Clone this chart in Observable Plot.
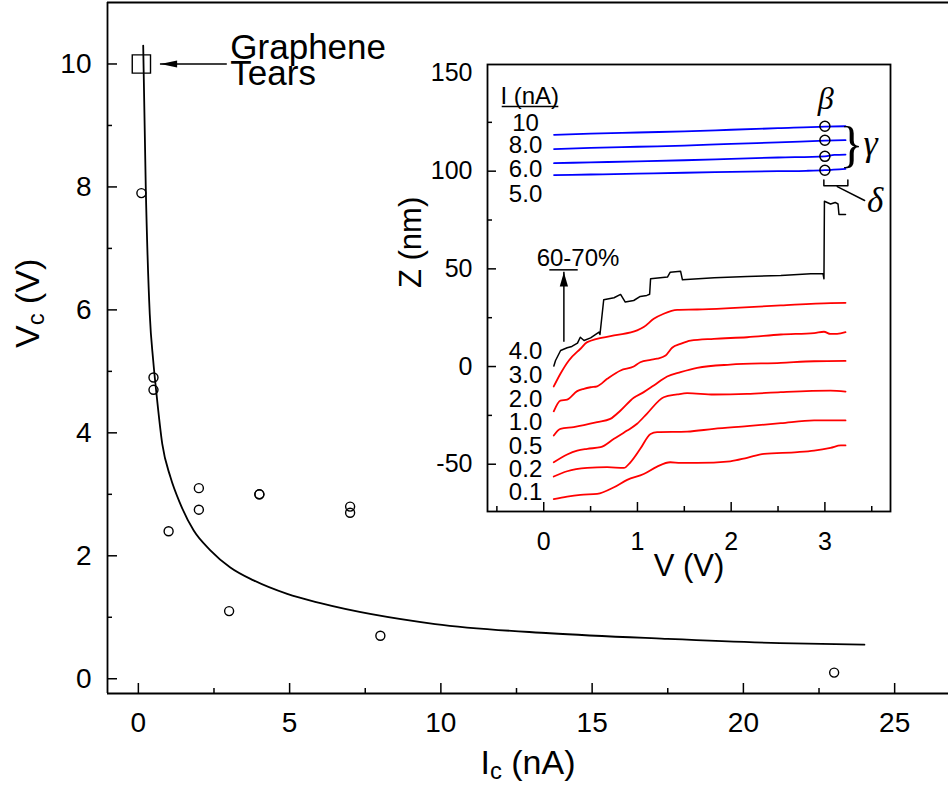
<!DOCTYPE html>
<html><head><meta charset="utf-8">
<script src="https://cdn.jsdelivr.net/npm/d3@7"></script>
<script src="https://cdn.jsdelivr.net/npm/@observablehq/plot@0.6"></script>
<style>
html,body{margin:0;padding:0;background:#fff;}
#wrap{position:relative;width:948px;height:786px;overflow:hidden;}
#main{position:absolute;left:0;top:0;}
#inset{position:absolute;left:380px;top:40px;}
</style></head><body><div id="wrap"><div id="main"></div><div id="inset"></div></div>
<script>
// ---------- main plot data ----------
const pointsI = [0.1, 0.5, 0.5, 1, 2, 2, 3, 4, 4, 7, 7, 8, 23];
const pointsV = [7.9, 4.9, 4.7, 2.4, 3.1, 2.75, 1.1, 3.0, 3.0, 2.8, 2.7, 0.7, 0.1];
const tearI = [0.1];
const tearV = [10];
const fitI = [0.16,0.245,0.377,0.49,0.6,0.79,1.06,1.39,1.83,2.38,3.04,3.81,4.92,6.02,9.81,13.6,17.4,21.2,24.0];
const fitV = [10.3,8.0,5.93,5.18,4.63,3.82,3.28,2.84,2.41,2.09,1.81,1.60,1.38,1.23,0.89,0.74,0.65,0.58,0.555];
const mainXDomain = [-1.02, 26.78];
const mainYDomain = [-0.24, 11.0];
const xTicksMajor = [0, 5, 10, 15, 20, 25];
const xTicksMinor = [2.5, 7.5, 12.5, 17.5, 22.5];
const yTicksMajor = [0, 2, 4, 6, 8, 10];
const yTicksMinor = [1, 3, 5, 7, 9];
const mainXLabel = "Ic (nA)";
const mainYLabel = "Vc (V)";
const tearText = [{I: 3.04, V: 10.01, t: "Graphene\nTears"}];
const tearArrowLine = [{x1: 0.73, x2: 2.94, y: 10}];
const tearArrowHead = [{I: 0.73, V: 10}];

// ---------- inset data: [V (V), Z (nm)] ----------
const blue10 = [[0.11,118.6],[0.5,119.2],[1.0,119.8],[1.5,120.4],[2.0,121.2],[2.5,122.0],[3.0,122.8],[3.22,123.0]];
const blue8 = [[0.11,111.3],[0.5,111.9],[1.0,112.5],[1.5,113.1],[2.0,114.0],[2.5,114.7],[3.0,115.6],[3.22,115.9]];
const blue6 = [[0.11,104.1],[0.5,104.5],[1.0,105.0],[1.5,105.6],[2.0,106.3],[2.5,107.0],[3.0,107.6],[3.1,108.3],[3.22,108.5]];
const blue5 = [[0.11,98.0],[0.5,98.3],[1.0,98.7],[1.5,99.2],[2.0,99.6],[2.5,100.0],[2.8,100.2],[3.0,100.5],[3.22,101.2]];
const black4 = [[0.108,0.3],[0.126,3.1],[0.18,8.2],[0.25,9.6],[0.3,10.3],[0.36,12.0],[0.39,15.0],[0.43,13.3],[0.5,14.7],[0.59,17.6],[0.60,16.4],[0.64,34.2],[0.75,35.2],[0.82,36.9],[0.87,33.0],[0.96,33.8],[1.03,35.9],[1.10,36.4],[1.13,37.0],[1.14,44.9],[1.32,45.8],[1.35,48.3],[1.46,48.8],[1.48,44.4],[1.82,45.4],[2.17,46.1],[2.53,46.6],[2.85,47.5],[2.98,47.5],[2.99,44.9],[2.995,84.6],[3.06,83.2],[3.11,84.0],[3.14,83.2],[3.15,77.8],[3.22,77.8]];
const red3 = [[0.107,-10.2],[0.178,-3.7],[0.268,3.1],[0.392,9.1],[0.464,12.5],[0.75,15.9],[0.996,18.5],[1.067,20.2],[1.174,24.4],[1.28,27.0],[1.424,29.0],[1.637,29.2],[1.99,29.9],[2.53,31.3],[3.06,32.5],[3.22,32.6]];
const red2 = [[0.107,-22.9],[0.178,-17.4],[0.25,-16.9],[0.357,-12.6],[0.428,-11.4],[0.5,-10.6],[0.57,-10.1],[0.677,-6.3],[0.82,-2.0],[0.96,0.0],[1.03,2.2],[1.14,3.4],[1.21,4.0],[1.3,5.6],[1.37,9.6],[1.46,11.6],[1.566,13.3],[1.815,14.2],[2.17,15.0],[2.53,16.4],[2.885,17.1],[2.99,17.8],[3.06,16.7],[3.13,16.7],[3.22,17.6]];
const red1 = [[0.107,-35.3],[0.178,-31.9],[0.32,-31.0],[0.57,-28.5],[0.71,-26.8],[0.82,-22.5],[0.96,-16.0],[1.067,-13.1],[1.174,-9.7],[1.317,-5.1],[1.46,-2.9],[1.637,-0.7],[1.99,1.0],[2.53,1.9],[2.885,2.7],[3.22,2.9]];
const red05 = [[0.107,-49.0],[0.25,-45.0],[0.357,-43.0],[0.464,-42.1],[0.606,-41.3],[0.75,-37.0],[0.89,-32.8],[0.996,-29.3],[1.10,-24.2],[1.28,-15.7],[1.424,-14.3],[1.53,-13.6],[1.815,-14.3],[2.17,-14.0],[2.53,-13.1],[3.06,-12.3],[3.22,-12.8]];
const red02 = [[0.107,-56.3],[0.25,-53.6],[0.464,-51.9],[0.677,-51.5],[0.855,-51.9],[0.925,-49.0],[1.03,-42.1],[1.14,-34.5],[1.21,-33.6],[1.53,-33.3],[1.815,-31.9],[2.17,-30.5],[2.53,-29.0],[2.885,-27.6],[3.22,-27.6]];
const red01 = [[0.107,-67.9],[0.25,-66.6],[0.392,-65.7],[0.57,-65.2],[0.75,-61.8],[0.89,-58.0],[1.067,-55.0],[1.21,-51.2],[1.35,-49.0],[1.46,-49.3],[1.637,-49.3],[1.99,-48.5],[2.17,-46.7],[2.35,-44.7],[2.707,-43.8],[2.885,-43.0],[3.06,-41.6],[3.17,-40.4],[3.22,-40.4]];
const betaCircles = [[3.0,123.0],[3.0,115.8],[3.0,107.6],[3.0,100.5]];
const insetXDomain = [-0.6, 3.7];
const insetYDomain = [-74.2, 154.6];
const vTicksMajor = [0, 1, 2, 3];
const vTicksMinor = [-0.5, 0.5, 1.5, 2.5, 3.5];
const zTicksLabels = [-50, 0, 50, 100, 150];
const zTicksMajor = [-50, 0, 50, 100];
const zTicksMinor = [-25, 25, 75, 125];
const currentLabels = ["10", "8.0", "6.0", "5.0", "4.0", "3.0", "2.0", "1.0", "0.5", "0.2", "0.1"];
const currentLabelZ = [124.5, 113.1, 101.1, 88.0, 7.7, -4.5, -16.7, -28.7, -40.9, -52.6, -64.6];
const currentLabelV = -0.194;
const headerText = [{V: -0.149, Z: 138.1, t: "I (nA)"}, {V: 0.366, Z: 55.4, t: "60-70%"}];
const underlines = [{x1: -0.443, x2: 0.161, y: 133.1}, {x1: 0.065, x2: 0.368, y: 49.5}];
const riseArrowLine = [{x: 0.215, y1: 12.4, y2: 48.3}];
const riseArrowHead = [{V: 0.215, Z: 48.3}];
const greek = [{V: 3.008, Z: 137.0, t: "β", s: 32}, {V: 3.488, Z: 114.3, t: "γ", s: 36}, {V: 3.536, Z: 85.0, t: "δ", s: 35}];
const braceText = [{V: 3.285, Z: 113.6, t: "}"}];
const deltaBracket = [[2.989,95.5],[2.989,92.6],[3.245,92.6],[3.245,95.5]];
const deltaLeader = [[3.132,92.1],[3.424,85.0]];
const insetXLabel = "V (V)";
const insetYLabel = "Z (nm)";

// ---------- helpers ----------
const FONT = "'Liberation Sans', Arial, Helvetica, sans-serif";
const SERIF = "'Liberation Serif', 'Times New Roman', serif";
const toRows = (arr, key) => arr.map(([V, Z]) => ({V, Z, k: key}));
function arrowHead(len, wid) {
  return {draw(ctx) { ctx.moveTo(0, 0); ctx.lineTo(len, -wid / 2); ctx.lineTo(len, wid / 2); ctx.closePath(); }};
}

const mainPts = pointsI.map((I, i) => ({I, V: pointsV[i]}));
const tearPts = tearI.map((I, i) => ({I, V: tearV[i]}));
const fitRows = fitI.map((I, i) => ({I, V: fitV[i]}));

const mainSvg = Plot.plot({
  width: 948, height: 786,
  marginLeft: 107, marginRight: 0, marginTop: 2, marginBottom: 93,
  x: {domain: mainXDomain},
  y: {domain: mainYDomain},
  style: {fontFamily: FONT, fontSize: "28px", color: "black", background: "transparent", overflow: "visible"},
  marks: [
    Plot.ruleX([mainXDomain[0]], {strokeWidth: 1.8}),
    Plot.ruleY(mainYDomain, {strokeWidth: 1.8}),
    Plot.axisX(xTicksMajor, {tickSize: -10, tickFormat: () => "", label: null, strokeWidth: 1.5}),
    Plot.axisX(xTicksMinor, {tickSize: -5, tickFormat: () => "", label: null, strokeWidth: 1.5}),
    Plot.axisX(xTicksMajor, {tickSize: 0, tickPadding: 19, fontSize: 28, label: null, tickFormat: d => String(d)}),
    Plot.axisY(yTicksMajor, {tickSize: -10, tickFormat: () => "", label: null, strokeWidth: 1.5}),
    Plot.axisY(yTicksMinor, {tickSize: -5, tickFormat: () => "", label: null, strokeWidth: 1.5}),
    Plot.axisY(yTicksMajor, {tickSize: 0, tickPadding: 16, fontSize: 28, label: null, tickFormat: d => String(d)}),
    Plot.text([mainXLabel], {text: d => d, frameAnchor: "bottom", dy: 70, fontSize: 34, lineAnchor: "middle"}),
    Plot.text([mainYLabel], {text: d => d, frameAnchor: "left", dx: -79, rotate: -90, fontSize: 34, lineAnchor: "middle"}),
    Plot.line(fitRows, {x: "I", y: "V", strokeWidth: 1.8, curve: "monotone-x"}),
    Plot.dot(mainPts, {x: "I", y: "V", r: 4.5, stroke: "black", strokeWidth: 1.4, fill: "none"}),
    Plot.dot(tearPts, {x: "I", y: "V", symbol: "square", r: 10.3, stroke: "black", strokeWidth: 1.4, fill: "none"}),
    Plot.ruleY(tearArrowLine, {x1: "x1", x2: "x2", y: "y", strokeWidth: 1.5}),
    Plot.dot(tearArrowHead, {x: "I", y: "V", symbol: arrowHead(16.7, 6.8), fill: "black", stroke: "none"}),
    Plot.text(tearText, {x: "I", y: "V", text: "t", textAnchor: "start", lineAnchor: "middle", lineHeight: 0.77, fontSize: 35})
  ]
});

const insetRows = [
  ...toRows(blue10, "b10"), ...toRows(blue8, "b8"), ...toRows(blue6, "b6"), ...toRows(blue5, "b5")
];
const blackRows = toRows(black4, "k4");
const redRows = [
  ...toRows(red3, "r3"), ...toRows(red2, "r2"), ...toRows(red1, "r1"),
  ...toRows(red05, "r05"), ...toRows(red02, "r02"), ...toRows(red01, "r01")
];
const labelRows = currentLabels.map((t, i) => ({t, V: currentLabelV, Z: currentLabelZ[i]}));
const betaRows = betaCircles.map(([V, Z]) => ({V, Z}));
const bracketRows = toRows(deltaBracket, "br");
const leaderRows = toRows(deltaLeader, "ld");

// inset svg spans x 380..948, y 40..600; frame at x 487..890, y 64..511
const insetSvg = Plot.plot({
  width: 568, height: 560,
  marginLeft: 107, marginRight: 58, marginTop: 24, marginBottom: 89,
  x: {domain: insetXDomain},
  y: {domain: insetYDomain},
  style: {fontFamily: FONT, fontSize: "25px", color: "black", background: "transparent", overflow: "visible"},
  marks: [
    Plot.frame({strokeWidth: 1.8}),
    Plot.axisX(vTicksMajor, {tickSize: -9, tickFormat: () => "", label: null, strokeWidth: 1.5}),
    Plot.axisX(vTicksMinor, {tickSize: -5, tickFormat: () => "", label: null, strokeWidth: 1.5}),
    Plot.axisX(vTicksMajor, {tickSize: 0, tickPadding: 21, fontSize: 25, label: null, tickFormat: d => String(d)}),
    Plot.axisY(zTicksMajor, {tickSize: -9, tickFormat: () => "", label: null, strokeWidth: 1.5}),
    Plot.axisY(zTicksMinor, {tickSize: -5, tickFormat: () => "", label: null, strokeWidth: 1.5}),
    Plot.axisY(zTicksLabels, {tickSize: 0, tickPadding: 15, fontSize: 25, label: null, tickFormat: d => String(d)}),
    Plot.text([insetXLabel], {text: d => d, frameAnchor: "bottom", dy: 55, fontSize: 31, lineAnchor: "middle"}),
    Plot.text([insetYLabel], {text: d => d, frameAnchor: "left", dx: -76, rotate: -90, fontSize: 31, lineAnchor: "middle"}),
    Plot.line(insetRows, {x: "V", y: "Z", z: "k", stroke: "#0000ff", strokeWidth: 1.8, curve: "monotone-x"}),
    Plot.line(redRows, {x: "V", y: "Z", z: "k", stroke: "#ff0000", strokeWidth: 1.8, curve: "monotone-x"}),
    Plot.line(blackRows, {x: "V", y: "Z", z: "k", stroke: "black", strokeWidth: 1.5}),
    Plot.dot(betaRows, {x: "V", y: "Z", r: 5, stroke: "black", strokeWidth: 1.5, fill: "none"}),
    Plot.text(labelRows, {x: "V", y: "Z", text: "t", textAnchor: "middle", lineAnchor: "middle", fontSize: 24}),
    Plot.text(headerText, {x: "V", y: "Z", text: "t", textAnchor: "middle", lineAnchor: "middle", fontSize: 24}),
    Plot.ruleY(underlines, {x1: "x1", x2: "x2", y: "y", strokeWidth: 1.5}),
    Plot.ruleX(riseArrowLine, {x: "x", y1: "y1", y2: "y2", strokeWidth: 1.5}),
    Plot.dot(riseArrowHead, {x: "V", y: "Z", symbol: arrowHead(14.3, 8.3), rotate: 90, fill: "black", stroke: "none"}),
    Plot.text(greek, {x: "V", y: "Z", text: "t", fontSize: d => d.s, fontFamily: SERIF, fontStyle: "italic", lineAnchor: "middle"}),
    Plot.text(braceText, {x: "V", y: "Z", text: "t", fontSize: 50, fontFamily: SERIF, lineAnchor: "middle"}),
    Plot.line(bracketRows, {x: "V", y: "Z", strokeWidth: 1.5}),
    Plot.line(leaderRows, {x: "V", y: "Z", strokeWidth: 1.5})
  ]
});

function subscriptify(svg, full, base, sub, rest) {
  d3.select(svg).selectAll("text").filter(function () { return this.textContent === full; }).each(function () {
    const t = d3.select(this);
    t.text(null);
    t.append("tspan").text(base);
    t.append("tspan").attr("font-size", "0.7em").attr("dy", "5").text(sub);
    t.append("tspan").attr("dy", "-5").text(rest);
  });
}
subscriptify(mainSvg, mainXLabel, "I", "c", " (nA)");
subscriptify(mainSvg, mainYLabel, "V", "c", " (V)");

document.getElementById("main").appendChild(mainSvg);
document.getElementById("inset").appendChild(insetSvg);
</script></body></html>
